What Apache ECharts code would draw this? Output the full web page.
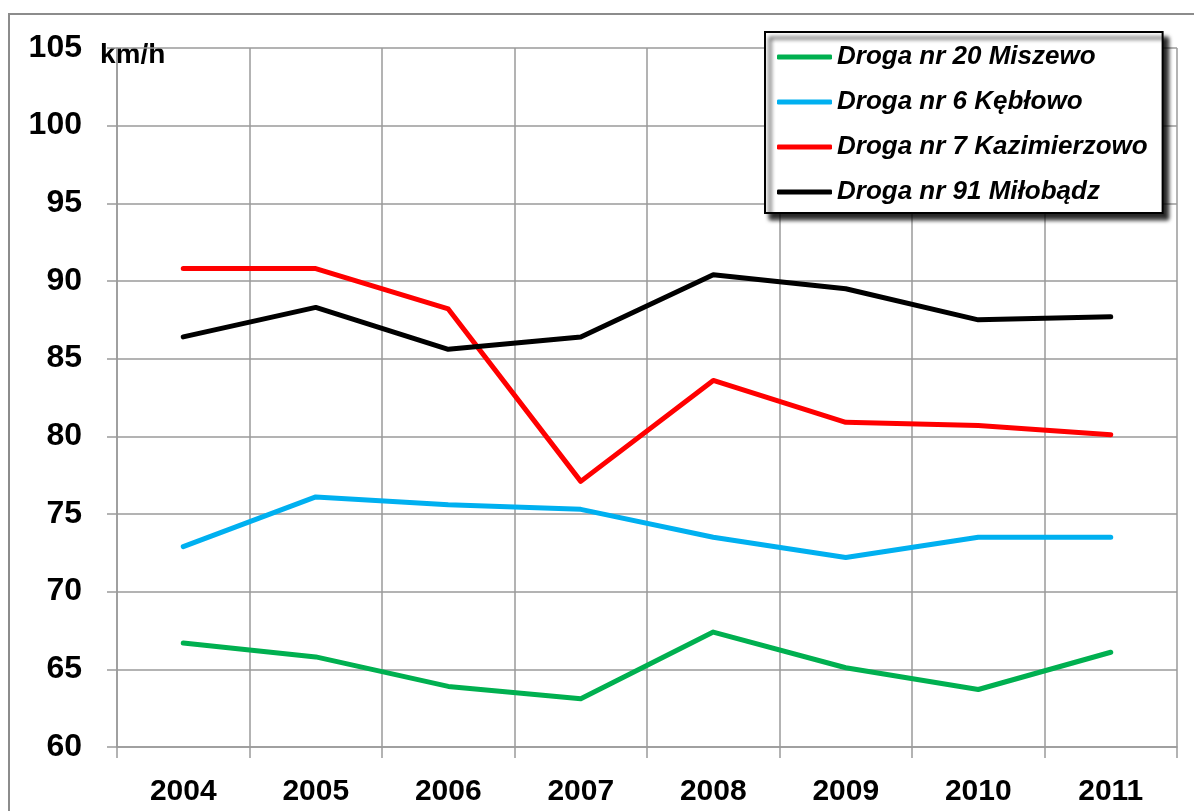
<!DOCTYPE html>
<html>
<head>
<meta charset="utf-8">
<script src="https://cdn.jsdelivr.net/npm/echarts@6/dist/echarts.min.js"></script>
<style>
  html, body { margin: 0; padding: 0; background: #fff; }
  #chart { width: 1194px; height: 811px; }
</style>
</head>
<body>
<div id="chart"></div>
<script>
const years = ['2004', '2005', '2006', '2007', '2008', '2009', '2010', '2011']
const miszewo = [66.7, 65.8, 63.9, 63.1, 67.4, 65.1, 63.7, 66.1]
const keblowo = [72.9, 76.1, 75.6, 75.3, 73.5, 72.2, 73.5, 73.5]
const kazimierzowo = [90.8, 90.8, 88.2, 77.1, 83.6, 80.9, 80.7, 80.1]
const milobadz = [86.4, 88.3, 85.6, 86.4, 90.4, 89.5, 87.5, 87.7]
const seriesNames = ['Droga nr 20 Miszewo', 'Droga nr 6 Kębłowo', 'Droga nr 7 Kazimierzowo', 'Droga nr 91 Miłobądz']
const seriesColors = ['#00b050', '#00b0f0', '#ff0000', '#000000']
const seriesValues = [miszewo, keblowo, kazimierzowo, milobadz]

const font = 'Arial, "Liberation Sans", sans-serif'
const gridColor = '#9a9a9a'

const chart = echarts.init(document.getElementById('chart'))
chart.setOption({
  animation: false,
  textStyle: { fontFamily: font },
  grid: { left: 117, right: 17, top: 48, bottom: 64 },
  xAxis: {
    type: 'category',
    data: years,
    boundaryGap: true,
    axisLine: { lineStyle: { color: gridColor, width: 1.5 } },
    axisTick: { show: true, length: 11, lineStyle: { color: gridColor, width: 1.5 } },
    splitLine: { show: true, lineStyle: { color: gridColor, width: 1.5 } },
    axisLabel: { color: '#000', fontSize: 30, fontWeight: 'bold', margin: 30, fontFamily: font }
  },
  yAxis: {
    type: 'value',
    min: 60,
    max: 105,
    interval: 5,
    axisLine: { show: true, lineStyle: { color: gridColor, width: 1.5 } },
    axisTick: { show: true, length: 10, lineStyle: { color: gridColor, width: 1.5 } },
    splitLine: { show: true, lineStyle: { color: gridColor, width: 1.5 } },
    axisLabel: { color: '#000', fontSize: 32, fontWeight: 'bold', margin: 35, fontFamily: font }
  },
  legend: {
    orient: 'vertical',
    left: 765,
    top: 32,
    padding: [10, 15, 6, 12],
    itemGap: 15,
    itemWidth: 55,
    itemHeight: 5,
    icon: 'roundRect',
    backgroundColor: '#fff',
    borderColor: '#000',
    borderWidth: 2,
    borderRadius: 0,
    shadowColor: 'rgba(0,0,0,0.85)',
    shadowBlur: 4,
    shadowOffsetX: 5,
    shadowOffsetY: 6,
    data: seriesNames,
    textStyle: {
      color: '#000', fontSize: 26, fontWeight: 'bold', fontStyle: 'italic',
      lineHeight: 30, fontFamily: font
    }
  },
  graphic: [
    {
      type: 'rect',
      silent: true,
      shape: { x: 9, y: 14, width: 1400, height: 1000 },
      style: { fill: 'none', stroke: '#8c8c8c', lineWidth: 2 }
    },
    {
      type: 'text',
      left: 100,
      top: 41,
      silent: true,
      style: { text: 'km/h', fill: '#000', fontSize: 28, fontWeight: 'bold', fontFamily: font }
    }
  ],
  series: seriesNames.map((name, i) => ({
    name: name,
    type: 'line',
    data: seriesValues[i],
    symbol: 'none',
    color: seriesColors[i],
    lineStyle: { color: seriesColors[i], width: 5, cap: 'round', join: 'round' }
  }))
})
</script>
</body>
</html>
